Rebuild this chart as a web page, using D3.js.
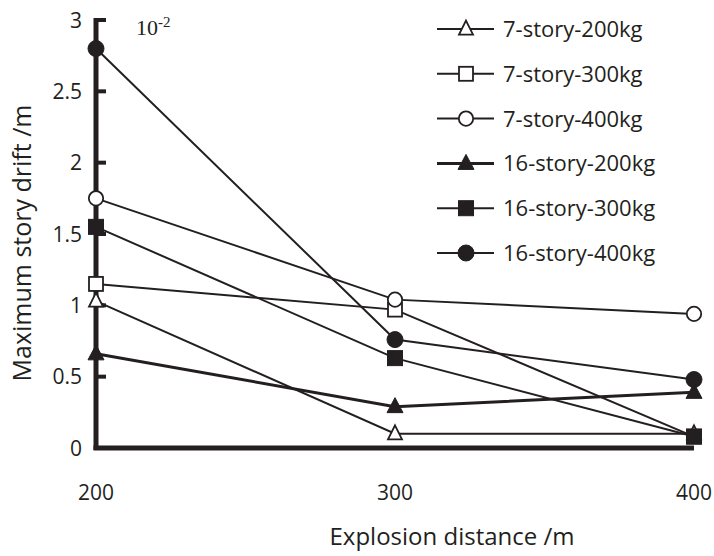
<!DOCTYPE html>
<html>
<head>
<meta charset="utf-8">
<script src="https://cdn.jsdelivr.net/npm/d3@7"></script>
<style>
  html, body { margin: 0; padding: 0; background: #fff; }
  svg { display: block; }
  text { font-family: "Open Sans", sans-serif; fill: #231f20; }
</style>
</head>
<body>
<svg id="chart" width="714" height="556"></svg>
<script>
// Explosion distances (m)
const distances = [200, 300, 400];
const xTickLabels = ["200", "300", "400"];
const yTickValues = [0, 0.5, 1, 1.5, 2, 2.5, 3];
const yTickLabels = ["0", "0.5", "1", "1.5", "2", "2.5", "3"];

// Maximum story drift (×10^-2 m)
const seriesNames = ["7-story-200kg", "7-story-300kg", "7-story-400kg",
                     "16-story-200kg", "16-story-300kg", "16-story-400kg"];
const story7_200 = [1.03, 0.10, 0.10];
const story7_300 = [1.15, 0.97, 0.08];
const story7_400 = [1.75, 1.04, 0.94];
const story16_200 = [0.66, 0.29, 0.39];
const story16_300 = [1.55, 0.63, 0.08];
const story16_400 = [2.80, 0.76, 0.48];

const seriesValues = [story7_200, story7_300, story7_400, story16_200, story16_300, story16_400];
const markerShapes = ["triangle", "square", "circle", "triangle", "square", "circle"];
const markerFilled = [false, false, false, true, true, true];
const lineWidths = [2, 2, 2, 3, 2, 2];

const ink = "#231f20";
const svg = d3.select("#chart");

const x = d3.scaleLinear().domain([200, 400]).range([96, 694]);
const y = d3.scaleLinear().domain([0, 3]).range([448, 20]);

// axes
const gY = svg.append("g").attr("transform", `translate(${x(200)},0)`);
gY.append("line").attr("x1", 0).attr("x2", 0).attr("y1", y(3) - 2).attr("y2", y(0) + 2)
  .attr("stroke", ink).attr("stroke-width", 5);
gY.selectAll("line.tick").data(yTickValues.filter(v => v > 0)).join("line")
  .attr("class", "tick")
  .attr("x1", 0).attr("x2", 10).attr("y1", d => y(d)).attr("y2", d => y(d))
  .attr("stroke", ink).attr("stroke-width", 4);
gY.selectAll("text").data(yTickValues).join("text")
  .attr("x", -14).attr("y", d => y(d)).attr("dy", "0.36em")
  .attr("text-anchor", "end").attr("font-size", 21)
  .text((d, i) => yTickLabels[i]);

svg.append("line").attr("x1", x(200) - 2.5).attr("x2", x(400)).attr("y1", y(0)).attr("y2", y(0))
  .attr("stroke", ink).attr("stroke-width", 5);

svg.append("g").selectAll("text").data(distances).join("text")
  .attr("x", d => x(d)).attr("y", 500)
  .attr("text-anchor", "middle").attr("font-size", 21)
  .text((d, i) => xTickLabels[i]);

// axis titles
svg.append("text")
  .attr("transform", `translate(31,${243}) rotate(-90)`)
  .attr("text-anchor", "middle").attr("font-size", 25)
  .text("Maximum story drift /m");
svg.append("text")
  .attr("x", 452).attr("y", 545)
  .attr("text-anchor", "middle").attr("font-size", 24)
  .text("Explosion distance /m");

// unit multiplier
const unit = svg.append("text").attr("x", 136).attr("y", 35)
  .style("font-family", "'Liberation Serif', 'Times New Roman', serif").attr("font-size", 22);
unit.append("tspan").text("10");
unit.append("tspan").attr("dy", -8).attr("font-size", 15).text("-2");

// marker drawing
function drawMarker(g, shape, filled, cx, cy) {
  const fill = filled ? ink : "#fff";
  const sw = filled ? 1 : 1.8;
  if (shape === "circle") {
    g.append("circle").attr("cx", cx).attr("cy", cy).attr("r", filled ? 8 : 7.2)
      .attr("fill", fill).attr("stroke", ink).attr("stroke-width", sw);
  } else if (shape === "square") {
    const s = filled ? 15 : 14;
    g.append("rect").attr("x", cx - s / 2).attr("y", cy - s / 2).attr("width", s).attr("height", s)
      .attr("fill", fill).attr("stroke", ink).attr("stroke-width", sw);
  } else {
    const h = filled ? 15 : 14, w = filled ? 16 : 14;
    g.append("path")
      .attr("d", `M${cx},${cy - h * 0.6}L${cx + w / 2},${cy + h * 0.4}L${cx - w / 2},${cy + h * 0.4}Z`)
      .attr("fill", fill).attr("stroke", ink).attr("stroke-width", sw).attr("stroke-linejoin", "miter");
  }
}

const line = d3.line().x((d, i) => x(distances[i])).y(d => y(d));

// series lines
const gLines = svg.append("g");
seriesValues.forEach((vals, k) => {
  gLines.append("path").datum(vals).attr("d", line)
    .attr("fill", "none").attr("stroke", ink).attr("stroke-width", lineWidths[k]);
});

// series markers
const gMarks = svg.append("g");
seriesValues.forEach((vals, k) => {
  vals.forEach((v, i) => drawMarker(gMarks, markerShapes[k], markerFilled[k], x(distances[i]), y(v)));
});

// legend
const gLeg = svg.append("g");
seriesNames.forEach((name, k) => {
  const ly = 29 + k * 44.8;
  gLeg.append("line").attr("x1", 437).attr("x2", 494).attr("y1", ly).attr("y2", ly)
    .attr("stroke", ink).attr("stroke-width", lineWidths[k]);
  drawMarker(gLeg, markerShapes[k], markerFilled[k], 466, ly);
  gLeg.append("text").attr("x", 503).attr("y", ly).attr("dy", "0.36em")
    .attr("font-size", 22).text(name);
});
</script>
</body>
</html>
